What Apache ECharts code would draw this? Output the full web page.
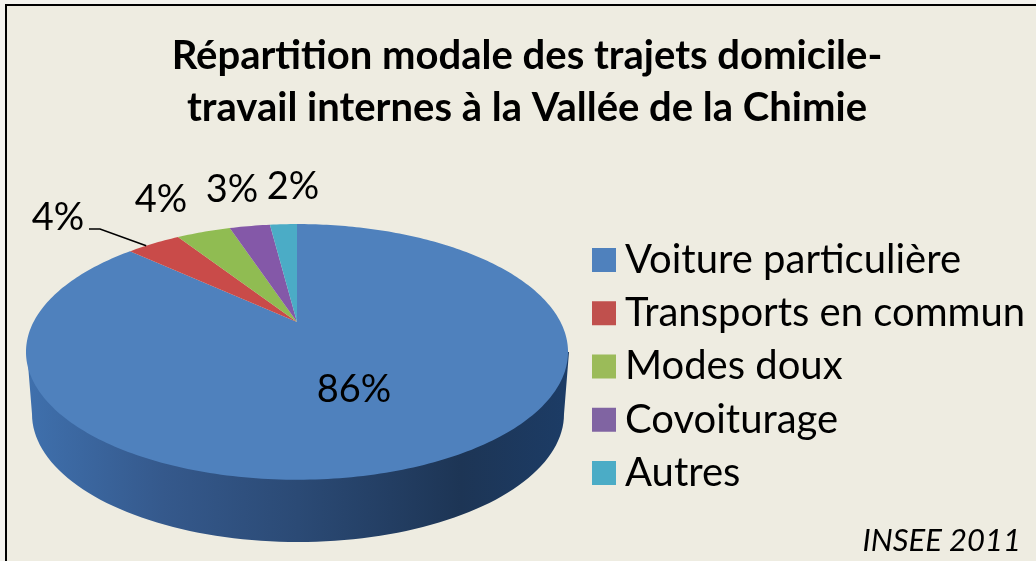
<!DOCTYPE html>
<html>
<head>
<meta charset="utf-8">
<style>html,body{margin:0;padding:0;background:#f4f3ee}#main{width:1036px;height:561px}</style>
<script src="https://cdn.jsdelivr.net/npm/echarts@6/dist/echarts.min.js"></script>
</head>
<body>
<div id="main"></div>
<script>
var categories = ['Voiture particulière', 'Transports en commun', 'Modes doux', 'Covoiturage', 'Autres'];
var shares = [86, 4, 4, 3, 2];
var colors = ['#4f81bd', '#c0504d', '#9bbb59', '#8064a2', '#4bacc6'];
var faceColors = ['#4f81bd', '#c94b49', '#90bc52', '#8458a8', '#4bacc6'];
var labelSpots = [[354, 390], [58, 218], [161, 200], [232, 190], [293, 187]];

// tilted disc: unit circle seen in perspective, apex sits above the ellipse middle
var disc = { x: 297, apex: 322, back: -45.5, tilt: 0.234, spread: 263.5 };
var total = shares.reduce(function (a, b) { return a + b; }, 0);

function rimPoint(frac) {
    var t = frac * Math.PI * 2;
    var u = Math.sin(t), v = Math.cos(t);
    var d = disc.tilt * v + 1;
    return [disc.x + disc.spread * u / d, (disc.back * v + disc.apex) / d];
}

function sliceItem(idx) {
    return function (params, api) {
        var before = 0;
        for (var i = 0; i < idx; i++) before += shares[i];
        var val = api.value(0);
        var from = before / total, to = (before + val) / total;
        var pts = [[disc.x, disc.apex]];
        var steps = Math.max(4, Math.ceil((to - from) * 360));
        for (var s = 0; s <= steps; s++) {
            pts.push(rimPoint(from + (to - from) * s / steps));
        }
        var kids = [{
            type: 'polygon',
            shape: { points: pts },
            style: { fill: faceColors[idx] }
        }, {
            type: 'text',
            style: {
                text: val + '%',
                x: labelSpots[idx][0], y: labelSpots[idx][1],
                align: 'center', verticalAlign: 'middle',
                fill: '#000', font: '38px Lato'
            },
            z2: 10
        }];
        if (idx === 1) {
            var end = rimPoint(from + (to - from) * 0.35);
            kids.push({
                type: 'polyline',
                shape: { points: [[89, 229], [100, 229], [end[0], end[1]]] },
                style: { stroke: '#000', lineWidth: 1.5, fill: null },
                z2: 10
            });
        }
        return { type: 'group', children: kids };
    };
}

function wallItem() {
    var pts = [], cx = 298, cy = 414, rx = 266, ry = 128;
    pts.push([27, 352]);
    for (var a = 180; a >= 0; a -= 2) {
        var r = a * Math.PI / 180;
        pts.push([cx + rx * Math.cos(r), cy + ry * Math.sin(r)]);
    }
    pts.push([569, 352]);
    return {
        type: 'polygon',
        shape: { points: pts },
        style: {
            fill: new echarts.graphic.LinearGradient(0, 0, 1, 0, [
                { offset: 0, color: '#3f70ad' },
                { offset: 0.25, color: '#35598c' },
                { offset: 0.5, color: '#2b4a75' },
                { offset: 0.8, color: '#1d3555' },
                { offset: 1, color: '#1c3c66' }
            ])
        }
    };
}

var series = [{
    name: 'Paroi',
    type: 'custom',
    coordinateSystem: 'none',
    silent: true,
    z: 1,
    data: [[total]],
    renderItem: wallItem
}];
categories.forEach(function (name, i) {
    series.push({
        name: name,
        type: 'custom',
        coordinateSystem: 'none',
        silent: true,
        z: 2,
        itemStyle: { color: colors[i] },
        encode: { value: 0 },
        data: [[shares[i]]],
        renderItem: sliceItem(i)
    });
});

var chart = echarts.init(document.getElementById('main'), null, { renderer: 'canvas' });
chart.setOption({
    animation: false,
    backgroundColor: '#f4f3ee',
    title: {
        text: 'Répartition modale des trajets domicile-\ntravail internes à la Vallée de la Chimie',
        left: 522,
        top: 25,
        textAlign: 'center',
        textStyle: { fontFamily: 'Lato', fontWeight: 'bold', fontSize: 40, lineHeight: 52, color: '#000' }
    },
    legend: {
        data: categories,
        orient: 'vertical',
        left: 592,
        top: 240,
        padding: 0,
        itemWidth: 24,
        itemHeight: 24,
        itemGap: 13.25,
        icon: 'rect',
        selectedMode: false,
        textStyle: { fontFamily: 'Lato', fontSize: 40, lineHeight: 40, color: '#000', padding: [0, 0, 0, 4] }
    },
    graphic: [{
        type: 'rect',
        z: -1,
        shape: { x: 6, y: 5, width: 1040, height: 570 },
        style: { fill: '#eeece1', stroke: '#000', lineWidth: 2 }
    }, {
        type: 'text',
        z: 5,
        style: {
            text: 'INSEE 2011',
            x: 1021, y: 541,
            align: 'right', verticalAlign: 'middle',
            fill: '#000', font: 'italic 31px Lato'
        }
    }],
    series: series
});
</script>
</body>
</html>
